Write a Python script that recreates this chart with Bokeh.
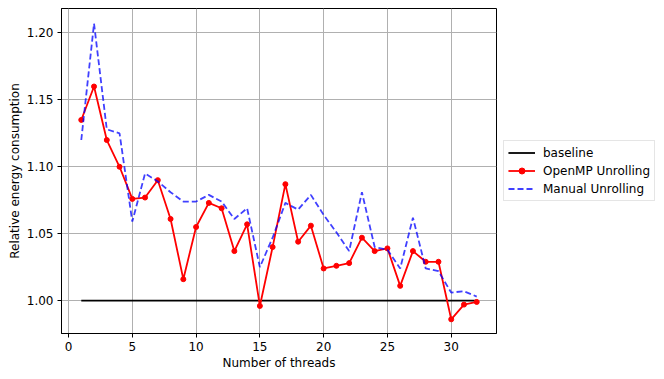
from bokeh.plotting import figure
from bokeh.layouts import row
from bokeh.models import Range1d, FixedTicker, NumeralTickFormatter, Legend, LegendItem
from bokeh.embed import file_html
from bokeh.resources import INLINE

threads = list(range(1, 33))
baseline = [1.0] * 32
openmp = [1.135, 1.160, 1.120, 1.100, 1.076, 1.077, 1.090, 1.061, 1.016, 1.055,
          1.073, 1.069, 1.037, 1.057, 0.996, 1.040, 1.087, 1.044, 1.056, 1.024,
          1.026, 1.028, 1.047, 1.037, 1.039, 1.011, 1.037, 1.029, 1.029, 0.986,
          0.997, 0.999]
manual = [1.120, 1.207, 1.128, 1.125, 1.059, 1.095, 1.089, 1.081, 1.074, 1.074,
          1.079, 1.074, 1.061, 1.069, 1.025, 1.047, 1.073, 1.068, 1.079, 1.064,
          1.051, 1.037, 1.081, 1.040, 1.038, 1.024, 1.062, 1.024, 1.022, 1.006,
          1.007, 1.003]
series_labels = ["baseline", "OpenMP Unrolling", "Manual Unrolling"]
x_ticks = [0, 5, 10, 15, 20, 25, 30]
y_ticks = [1.00, 1.05, 1.10, 1.15, 1.20]

FONT = "DejaVu Sans"
FS = "12px"
H = 372

p = figure(width=498, height=H, output_backend="svg", toolbar_location=None,
           x_range=Range1d(-0.55, 33.55), y_range=Range1d(0.9754, 1.2183),
           min_border_left=61, min_border_right=2, min_border_top=8,
           min_border_bottom=39)
p.background_fill_color = "white"
p.border_fill_color = "white"
p.outline_line_color = "black"
p.outline_line_width = 1

for ax in (p.xaxis[0], p.yaxis[0]):
    ax.axis_line_color = "black"
    ax.major_tick_line_color = "black"
    ax.major_tick_out = 4
    ax.major_tick_in = 0
    ax.minor_tick_line_color = None
    ax.major_label_text_font = FONT
    ax.major_label_text_font_size = FS
    ax.major_label_text_color = "black"
    ax.axis_label_text_font = FONT
    ax.axis_label_text_font_size = FS
    ax.axis_label_text_font_style = "normal"
    ax.axis_label_text_color = "black"
    ax.major_label_standoff = 4

p.xaxis[0].ticker = FixedTicker(ticks=x_ticks)
p.yaxis[0].ticker = FixedTicker(ticks=y_ticks)
p.yaxis[0].formatter = NumeralTickFormatter(format="0.00")
p.xaxis[0].axis_label = "Number of threads"
p.yaxis[0].axis_label = "Relative energy consumption"
p.xaxis[0].axis_label_standoff = 2
p.yaxis[0].axis_label_standoff = 2

p.xgrid.ticker = FixedTicker(ticks=x_ticks)
p.ygrid.ticker = FixedTicker(ticks=y_ticks)
for g in (p.xgrid[0], p.ygrid[0]):
    g.grid_line_color = "#b0b0b0"
    g.grid_line_width = 1

p.line(threads, baseline, line_color="black", line_width=1.8)
p.line(threads, openmp, line_color="red", line_width=1.8)
p.scatter(threads, openmp, size=5, fill_color="red", line_color="red")
p.line(threads, manual, line_color="blue", line_alpha=0.75, line_width=1.8,
       line_dash="6 3")

# legend panel to the right of the axes (its data lies outside its view)
q = figure(width=166, height=H, output_backend="svg", toolbar_location=None,
           x_range=Range1d(-200, -100), y_range=Range1d(0, 1),
           x_axis_location=None, y_axis_location=None,
           min_border=0)
q.outline_line_color = None
q.xgrid.visible = False
q.ygrid.visible = False
l_base = q.line(threads, baseline, line_color="black", line_width=1.8)
l_omp = q.line(threads, openmp, line_color="red", line_width=1.8)
l_omp_pts = q.scatter(threads, openmp, size=5, fill_color="red", line_color="red")
l_man = q.line(threads, manual, line_color="blue", line_alpha=0.75, line_width=1.8,
               line_dash="6 3")

legend = Legend(items=[
    LegendItem(label=series_labels[0], renderers=[l_base]),
    LegendItem(label=series_labels[1], renderers=[l_omp, l_omp_pts]),
    LegendItem(label=series_labels[2], renderers=[l_man]),
], location=(5, H - 240))
legend.label_text_font = FONT
legend.label_text_font_size = FS
legend.label_text_color = "black"
legend.glyph_width = 27
legend.glyph_height = 15
legend.label_height = 15
legend.label_standoff = 8
legend.spacing = 3
legend.padding = 4
legend.margin = 0
legend.border_line_color = "#cccccc"
legend.border_line_width = 1
legend.background_fill_alpha = 0.8
q.add_layout(legend, "center")

open("out.html", "w").write(file_html(row(p, q), INLINE))
